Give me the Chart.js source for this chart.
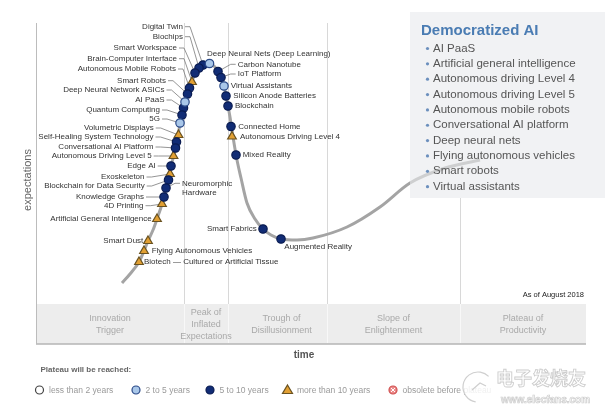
<!DOCTYPE html>
<html>
<head>
<meta charset="utf-8">
<script src="https://cdn.jsdelivr.net/npm/chart.js@4"></script>
<style>
  html, body { margin: 0; padding: 0; background: #fff; }
  #wrap { width: 605px; height: 415px; }
</style>
</head>
<body>
<div id="wrap"><canvas id="chart" width="605" height="415"></canvas></div>
<script>
// hype curve (time, expectations)
const curveTime = [17.2, 18.8, 20.6, 21.6, 22.4, 23.4, 24.2, 25.2, 26, 27, 28, 28.8, 29.6, 30.4, 31.2, 31.8, 32.6, 33.4, 34.6,
  35.6, 36.4, 37, 37.6, 38, 38.4, 38.8, 39.2, 39.6, 40.2, 41, 42.2, 43.8, 45.4, 47, 49, 52.2, 55.4, 62.2, 68.8, 74.8, 81.8, 88.8];
const curveExpect = [10.5, 15, 21, 26.5, 31.5, 37, 42.5, 50, 58, 69, 78.5, 90, 98.5, 105.5, 111, 115.5, 118.5, 119.75, 120.5,
  119, 116.5, 113.5, 109, 104, 99, 93.5, 87, 80.5, 72, 63, 50.5, 42.5, 37.5, 34.5, 32.5, 32, 33, 38.5, 48.5, 60.5, 68, 72];

const techNames = [
  'Digital Twin', 'Biochips', 'Smart Workspace', 'Brain-Computer Interface', 'Autonomous Mobile Robots',
  'Smart Robots', 'Deep Neural Network ASICs', 'AI PaaS', 'Quantum Computing', '5G',
  'Volumetric Displays', 'Self-Healing System Technology', 'Conversational AI Platform', 'Autonomous Driving Level 5', 'Edge AI',
  'Exoskeleton', 'Blockchain for Data Security', 'Neuromorphic\nHardware', 'Knowledge Graphs', '4D Printing',
  'Artificial General Intelligence', 'Smart Dust', 'Flying Autonomous Vehicles', 'Biotech \u2014 Cultured or Artificial Tissue',
  'Deep Neural Nets (Deep Learning)', 'Carbon Nanotube', 'IoT Platform', 'Virtual Assistants', 'Silicon Anode Batteries',
  'Blockchain', 'Connected Home', 'Autonomous Driving Level 4', 'Mixed Reality', 'Smart Fabrics', 'Augmented Reality'
];
const techTime = [33.4, 32.6, 31.8, 31.2, 30.7, 30.3, 29.8, 29.5, 29.2, 28.8, 28.5, 28.1, 27.9, 27.5, 27,
  26.8, 26.5, 26, 25.6, 25.2, 24.2, 22.4, 21.6, 20.6, 34.7, 36.4, 37, 37.6, 38, 38.4, 39, 39.2, 40, 45.4, 49];
const techExpect = [119.5, 118, 115.5, 111, 108, 105, 101, 98, 94.5, 90.5, 84.5, 81, 78, 74, 69,
  65, 62, 58, 53.5, 50, 42.5, 31.5, 26.5, 21, 120.25, 116.25, 113.25, 109, 104, 99, 88.75, 83.75, 74.5, 37.5, 32.5];
// 0 less than 2 years, 1 2 to 5 years, 2 5 to 10 years, 3 more than 10 years
const techPlateau = [2, 2, 2, 3, 2, 2, 1, 2, 2, 1, 3, 2, 2, 3, 2,
  3, 2, 2, 2, 3, 3, 3, 3, 3, 1, 2, 2, 1, 2, 2, 2, 3, 2, 2, 2];

const phaseNames = [['Innovation', 'Trigger'], ['Peak of', 'Inflated', 'Expectations'], ['Trough of', 'Disillusionment'],
  ['Slope of', 'Enlightenment'], ['Plateau of', 'Productivity']];
const phaseBounds = [0, 29.6, 38.4, 58.2, 84.8, 110];

const plateauLabels = ['less than 2 years', '2 to 5 years', '5 to 10 years', 'more than 10 years', 'obsolete before plateau'];

const boxTitle = 'Democratized AI';
const boxItems = ['AI PaaS', 'Artificial general intelligence', 'Autonomous driving Level 4', 'Autonomous driving Level 5',
  'Autonomous mobile robots', 'Conversational AI platform', 'Deep neural nets', 'Flying autonomous vehicles',
  'Smart robots', 'Virtual assistants'];

// label placement in px from the point: dx, dy, align, leader line
const labelPos = [
  [-20, -38.3, 'right', 1], [-16, -31.3, 'right', 1], [-18, -25, 'right', 1], [-15, -23.3, 'right', 1], [-13.5, -19, 'right', 1],
  [-21.5, -13.3, 'right', 1], [-20.5, -12, 'right', 1], [-19, -8, 'right', 1], [-22, -5, 'right', 1], [-20, -4, 'right', 1],
  [-24.8, -7, 'right', 1], [-23, -5, 'right', 1], [-22, -1, 'right', 1], [-21.8, 0, 'right', 1], [-15.3, 0, 'right', 1],
  [-25.5, 3, 'right', 1], [-23.8, 6, 'right', 1], [16, -4.7, 'left', 1], [-20, 0, 'right', 1], [-18.5, 1.7, 'right', 1],
  [-5.3, 0, 'right', 0], [-4.7, 0, 'right', 0], [7.7, 0, 'left', 0], [5, 0, 'left', 0],
  [-2.6, -9.5, 'left', 0], [19.7, -7.2, 'left', 1], [16.7, -3.5, 'left', 1], [6.7, 0, 'left', 0], [7.3, 0, 'left', 0],
  [7, 0, 'left', 0], [7.3, 0, 'left', 0], [8, 0, 'left', 0], [6.7, 0, 'left', 0], [-6.3, 0, 'right', 0], [3.3, 7.7, 'left', 0]
];

const FONT = '"Liberation Sans", Arial, sans-serif';
const fills = ['#ffffff', '#a9c7e9', '#112c75', '#e2a033'];
const borders = ['#444444', '#2b4a88', '#0a1c52', '#6a5220'];
const styles = ['circle', 'circle', 'circle', 'triangle'];

function marker(ctx, kind, x, y) {
  ctx.save();
  ctx.lineWidth = 1.2;
  if (kind === 4) {
    ctx.fillStyle = '#ec8a8a'; ctx.strokeStyle = '#d05050';
    ctx.beginPath(); ctx.arc(x, y, 4, 0, Math.PI * 2); ctx.fill(); ctx.stroke();
    ctx.strokeStyle = '#fff'; ctx.lineWidth = 1;
    ctx.beginPath(); ctx.moveTo(x - 2, y - 2); ctx.lineTo(x + 2, y + 2); ctx.moveTo(x + 2, y - 2); ctx.lineTo(x - 2, y + 2); ctx.stroke();
  } else if (kind === 3) {
    ctx.fillStyle = fills[3]; ctx.strokeStyle = borders[3];
    ctx.beginPath(); ctx.moveTo(x, y - 5); ctx.lineTo(x + 5, y + 3.5); ctx.lineTo(x - 5, y + 3.5); ctx.closePath(); ctx.fill(); ctx.stroke();
  } else {
    ctx.fillStyle = fills[kind]; ctx.strokeStyle = borders[kind];
    ctx.beginPath(); ctx.arc(x, y, 4, 0, Math.PI * 2); ctx.fill(); ctx.stroke();
  }
  ctx.restore();
}

const decor = {
  id: 'decor',
  beforeDatasetsDraw(chart) {
    const {ctx, chartArea: a, scales: {x, y}} = chart;
    ctx.save();
    // band under the curve
    ctx.fillStyle = '#ededed';
    ctx.fillRect(a.left, a.bottom, a.right - a.left, 40);
    ctx.strokeStyle = '#b5b5b5'; ctx.lineWidth = 1.5;
    ctx.beginPath(); ctx.moveTo(a.left, a.bottom + 40); ctx.lineTo(a.right, a.bottom + 40); ctx.stroke();
    // phase dividers
    ctx.lineWidth = 1;
    phaseBounds.slice(1, -1).forEach(b => {
      const px = Math.round(x.getPixelForValue(b)) + 0.5;
      ctx.strokeStyle = '#d8d8d8';
      ctx.beginPath(); ctx.moveTo(px, a.top + 3); ctx.lineTo(px, a.bottom); ctx.stroke();
      ctx.strokeStyle = '#f8f8f8';
      ctx.beginPath(); ctx.moveTo(px, a.bottom); ctx.lineTo(px, a.bottom + 39); ctx.stroke();
    });
    // y axis
    ctx.strokeStyle = '#bcbcbc';
    ctx.beginPath(); ctx.moveTo(a.left + 0.5, a.top + 3); ctx.lineTo(a.left + 0.5, a.bottom + 40); ctx.stroke();
    // Democratized AI box
    ctx.fillStyle = '#f1f2f4';
    ctx.fillRect(410, 12, 195, 186);
    // leader lines
    ctx.strokeStyle = '#7a7a7a'; ctx.lineWidth = 0.8;
    techNames.forEach((n, i) => {
      const [dx, dy, al, lead] = labelPos[i];
      if (!lead) return;
      const px = x.getPixelForValue(techTime[i]), py = y.getPixelForValue(techExpect[i]);
      const lx = px + dx, ly = py + dy;
      const s = al === 'right' ? 2 : -2;
      ctx.beginPath();
      ctx.moveTo(lx + s, ly);
      ctx.lineTo(lx + s * 3.5, ly);
      ctx.lineTo(px, py);
      ctx.stroke();
    });
    ctx.restore();
  },
  afterDatasetsDraw(chart) {
    const {ctx, chartArea: a, scales: {x, y}} = chart;
    ctx.save();
    // soften the curve where it runs under the box
    ctx.fillStyle = 'rgba(241,242,244,0.55)';
    ctx.fillRect(410, 12, 195, 186);
    // tech labels
    ctx.font = '8px ' + FONT;
    ctx.fillStyle = '#333';
    ctx.textBaseline = 'middle';
    techNames.forEach((n, i) => {
      const [dx, dy, al] = labelPos[i];
      const px = x.getPixelForValue(techTime[i]), py = y.getPixelForValue(techExpect[i]);
      ctx.textAlign = al;
      n.split('\n').forEach((t, k) => ctx.fillText(t, px + dx, py + dy + k * 9));
    });
    // box text
    ctx.textAlign = 'left';
    ctx.fillStyle = '#4a7cb3';
    ctx.font = 'bold 15px ' + FONT;
    ctx.fillText(boxTitle, 421, 31);
    ctx.font = '11.5px ' + FONT;
    boxItems.forEach((t, i) => {
      const ty = 48.5 + i * 15.35;
      ctx.fillStyle = '#6b8fbd';
      ctx.beginPath(); ctx.arc(427.5, ty, 1.6, 0, Math.PI * 2); ctx.fill();
      ctx.fillStyle = '#555';
      ctx.fillText(t, 433, ty);
    });
    // phase names
    ctx.textAlign = 'center';
    ctx.fillStyle = '#a9a9a9';
    ctx.font = '9px ' + FONT;
    phaseNames.forEach((lines, i) => {
      const cx = (x.getPixelForValue(phaseBounds[i]) + x.getPixelForValue(phaseBounds[i + 1])) / 2 + (i === 2 ? 4 : 0);
      const top = a.bottom + 20.5 - (lines.length - 1) * 6;
      lines.forEach((t, k) => ctx.fillText(t, cx, top + k * 12));
    });
    ctx.textAlign = 'right';
    ctx.fillStyle = '#222';
    ctx.font = '7.5px ' + FONT;
    ctx.fillText('As of August 2018', 584, a.bottom - 9);
    // axis titles
    ctx.textAlign = 'center';
    ctx.fillStyle = '#555';
    ctx.font = 'bold 10px ' + FONT;
    ctx.fillText('time', 304, a.bottom + 51);
    ctx.save();
    ctx.translate(28, 180);
    ctx.rotate(-Math.PI / 2);
    ctx.font = '11px ' + FONT;
    ctx.fillStyle = '#666';
    ctx.fillText('expectations', 0, 0);
    ctx.restore();
    // plateau legend
    ctx.textAlign = 'left';
    ctx.fillStyle = '#666';
    ctx.font = 'bold 8px ' + FONT;
    ctx.fillText('Plateau will be reached:', 40.5, 370);
    const legX = [39.5, 136, 210, 287.5, 393];
    ctx.font = '8.5px ' + FONT;
    plateauLabels.forEach((t, i) => {
      marker(ctx, i, legX[i], 390);
      ctx.fillStyle = '#9a9a9a';
      ctx.fillText(t, legX[i] + 9.5, 390.5);
    });
    // watermark
    ctx.fillStyle = 'rgba(255,255,255,0.85)';
    ctx.beginPath(); ctx.arc(478, 387, 15, 0, Math.PI * 2); ctx.fill();
    ctx.strokeStyle = '#cfcfcf'; ctx.lineWidth = 1.2;
    ctx.beginPath(); ctx.arc(478, 387, 15, Math.PI * 0.55, Math.PI * 1.75); ctx.stroke();
    ctx.beginPath(); ctx.moveTo(472, 390); ctx.lineTo(480, 383); ctx.lineTo(486, 386); ctx.stroke();
    ctx.font = 'bold 18px "Noto Sans CJK SC", sans-serif';
    ctx.lineWidth = 0.9;
    ctx.strokeStyle = '#cdcdcd';
    ctx.fillStyle = '#fff';
    ctx.fillText('电子发烧友', 496, 378);
    ctx.strokeText('电子发烧友', 496, 378);
    ctx.font = 'bold 10px ' + FONT;
    ctx.lineWidth = 0.7;
    ctx.fillText('www.elecfans.com', 501, 400);
    ctx.strokeText('www.elecfans.com', 501, 400);
    ctx.restore();
  }
};

const pts = k => techNames.map((n, i) => ({x: techTime[i], y: techExpect[i], k: techPlateau[i]}))
  .filter(p => p.k === k);

const datasets = [{
  label: 'curve',
  data: curveTime.map((t, i) => ({x: t, y: curveExpect[i]})),
  order: 10,
  showLine: true,
  borderColor: '#a4a4a4',
  borderWidth: 3,
  pointRadius: 0,
  cubicInterpolationMode: 'monotone',
  fill: false
}];
[0, 1, 2, 3].forEach(k => datasets.push({
  label: plateauLabels[k],
  data: pts(k),
  order: 0,
  pointStyle: styles[k],
  pointRadius: k === 3 ? 5 : 4.2,
  pointBackgroundColor: fills[k],
  pointBorderColor: borders[k],
  pointBorderWidth: 1.2,
  showLine: false
}));

const ctx = document.getElementById('chart').getContext('2d');
const hype = new Chart(ctx, {
  type: 'scatter',
  data: {datasets: datasets},
  options: {
    responsive: false,
    animation: false,
    layout: {padding: {left: 36, right: 19, top: 20, bottom: 111}},
    scales: {
      x: {type: 'linear', min: 0, max: 110, display: false},
      y: {type: 'linear', min: 0, max: 142, display: false}
    },
    plugins: {
      legend: {display: false},
      tooltip: {enabled: false}
    }
  },
  plugins: [decor]
});
</script>
</body>
</html>
